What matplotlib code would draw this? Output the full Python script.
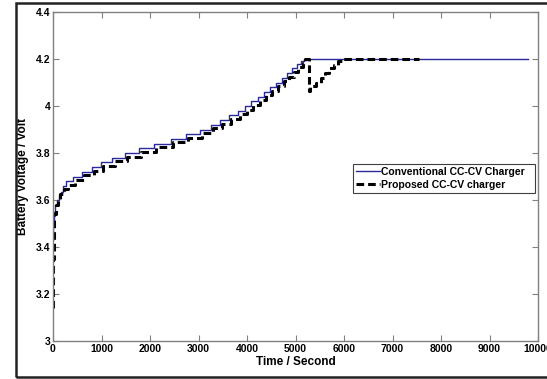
import matplotlib
matplotlib.use('Agg')
import matplotlib.pyplot as plt
from matplotlib.patches import Rectangle

# Conventional CC-CV charger: (time s, voltage V) step levels
conv_t = [0, 10, 25, 50, 80, 120, 160, 200, 275, 420, 600, 795, 995,
          1225, 1480, 1770, 2075, 2435, 2740, 3025, 3250, 3445, 3625,
          3805, 3950, 4090, 4230, 4360, 4480, 4600, 4720, 4830, 4930,
          5030, 5110, 5175, 9800]
conv_v = [3.43, 3.50, 3.55, 3.58, 3.60, 3.62, 3.635, 3.66, 3.68, 3.70,
          3.72, 3.74, 3.76, 3.78, 3.80, 3.82, 3.84, 3.86, 3.88, 3.90,
          3.92, 3.94, 3.96, 3.98, 4.00, 4.02, 4.04, 4.06, 4.08, 4.10,
          4.12, 4.14, 4.16, 4.18, 4.19, 4.20, 4.20]

# Proposed CC-CV charger
prop_t = [0, 5, 15, 30, 60, 100, 150, 220, 300, 460, 640, 840, 1040,
          1270, 1530, 1820, 2120, 2480, 2780, 3070, 3290, 3490, 3670,
          3850, 3990, 4130, 4270, 4400, 4520, 4640, 4760, 4870, 4970,
          5060, 5150, 5200, 5278, 5280, 5300, 5420, 5520, 5610, 5700,
          5790, 5880, 5960, 7550]
prop_v = [3.14, 3.35, 3.48, 3.54, 3.58, 3.60, 3.625, 3.645, 3.665, 3.685,
          3.705, 3.725, 3.745, 3.765, 3.785, 3.805, 3.825, 3.845, 3.865,
          3.885, 3.905, 3.925, 3.945, 3.965, 3.985, 4.005, 4.025, 4.045,
          4.065, 4.085, 4.105, 4.125, 4.145, 4.165, 4.185, 4.20, 4.20,
          4.065, 4.085, 4.10, 4.12, 4.14, 4.16, 4.175, 4.19, 4.20, 4.20]

x_ticks = [0, 1000, 2000, 3000, 4000, 5000, 6000, 7000, 8000, 9000, 10000]
x_labels = ['0', '1000', '2000', '3000', '4000', '5000', '6000', '7000',
            '8000', '9000', '10000']
y_ticks = [3, 3.2, 3.4, 3.6, 3.8, 4, 4.2, 4.4]
y_labels = ['3', '3.2', '3.4', '3.6', '3.8', '4', '4.2', '4.4']

plt.rcParams['font.family'] = ['Liberation Sans', 'DejaVu Sans']
plt.rcParams['font.weight'] = 'bold'

fig = plt.figure(figsize=(5.47, 3.79), dpi=100)
W, H = 547, 379
ax = fig.add_axes([53 / W, 1 - 341 / H, (538 - 53) / W, (341 - 12) / H])

ax.plot(conv_t, conv_v, drawstyle='steps-post', color='#2a2a9a', lw=1.0,
        label='Conventional CC-CV Charger')
ax.plot(prop_t, prop_v, drawstyle='steps-post', color='black', lw=2.2,
        dashes=(2.5, 1.3), label='Proposed CC-CV charger')

ax.set_xlim(0, 10000)
ax.set_ylim(3, 4.4)
ax.set_xticks(x_ticks)
ax.set_xticklabels(x_labels, fontsize=7.5, fontweight='bold')
ax.set_yticks(y_ticks)
ax.set_yticklabels(y_labels, fontsize=7.5, fontweight='bold')
ax.tick_params(direction='in', length=4, color='#808080', top=True,
               right=True, pad=2)
for s in ax.spines.values():
    s.set_color('#808080')
    s.set_linewidth(1.0)

ax.set_xlabel('Time / Second', fontsize=8.5, fontweight='bold', labelpad=1.5)
ax.set_ylabel('Battery Voltage / Volt', fontsize=8.5, fontweight='bold',
              labelpad=5)

leg = ax.legend(loc='lower left', bbox_to_anchor=(0.619, 0.45, 0.375, 0.103),
                mode='expand', fontsize=7.5, fancybox=False, framealpha=1,
                edgecolor='#404040', borderpad=0.3, handlelength=2.3,
                handletextpad=0.1, labelspacing=0.3, borderaxespad=0)
leg.get_frame().set_linewidth(0.8)

fig.patches.append(Rectangle((16 / W, 1 - 377 / H), 1.0, (377 - 3) / H,
                             transform=fig.transFigure, fill=False,
                             edgecolor='#222222', lw=1.8))

fig.savefig('out.png', dpi=100)
